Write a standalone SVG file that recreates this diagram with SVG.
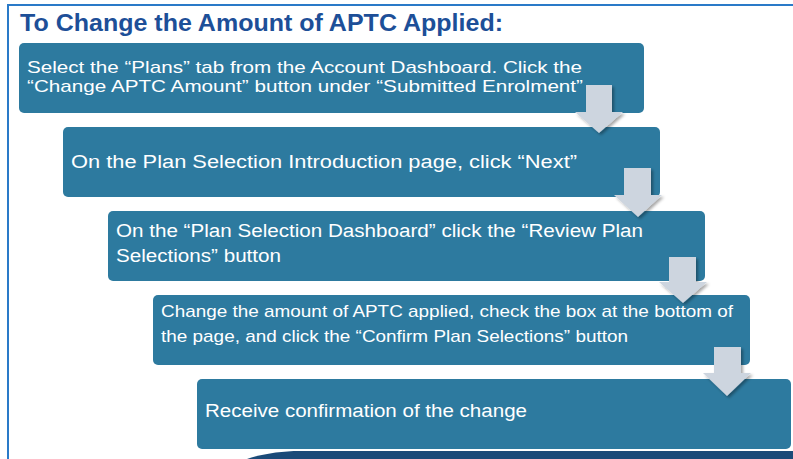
<svg xmlns="http://www.w3.org/2000/svg" width="793" height="459" viewBox="0 0 793 459">
  <style>
    .box { fill: #2d7a9f; }
    .txt { font-family: "Liberation Sans", Arial, sans-serif; fill: #ffffff; font-size: 18px; }
    .title { font-family: "Liberation Sans", Arial, sans-serif; fill: #1d4f98; font-size: 24px; font-weight: bold; }
    .arrow { fill: #cdd5df; filter: url(#sh); }
    .frame { stroke: #2a7ac8; stroke-width: 2; fill: none; }
  </style>
  <defs>
    <filter id="sh" x="-30%" y="-30%" width="160%" height="160%">
      <feDropShadow dx="2" dy="2" stdDeviation="1.5" flood-color="#000000" flood-opacity="0.35"/>
    </filter>
  </defs>
  <rect x="0" y="0" width="793" height="459" fill="#ffffff"/>
  <path class="frame" d="M8 459 V5 H793"/>
  <path d="M247 459 C 262 454, 280 451, 300 451 H793 V459 Z" fill="#1b4a78"/>
  <text class="title" x="20" y="31" textLength="483" lengthAdjust="spacingAndGlyphs">To Change the Amount of APTC Applied:</text>

  <g id="step1">
    <rect class="box" x="19" y="43" width="625" height="70" rx="5"/>
    <text class="txt" x="27" y="73" textLength="555" lengthAdjust="spacingAndGlyphs" style="font-size:17px">Select the “Plans” tab from the Account Dashboard. Click the</text>
    <text class="txt" x="27" y="92" textLength="556" lengthAdjust="spacingAndGlyphs" style="font-size:17px">“Change APTC Amount” button under “Submitted Enrolment”</text>
  </g>
  <g id="step2">
    <rect class="box" x="63" y="127" width="597" height="70" rx="5"/>
    <text class="txt" x="71" y="168" textLength="506" lengthAdjust="spacingAndGlyphs">On the Plan Selection Introduction page, click “Next”</text>
  </g>
  <g id="step3">
    <rect class="box" x="108" y="211" width="597" height="70" rx="5"/>
    <text class="txt" x="116" y="237" textLength="527" lengthAdjust="spacingAndGlyphs">On the “Plan Selection Dashboard” click the “Review Plan</text>
    <text class="txt" x="116" y="262" textLength="165" lengthAdjust="spacingAndGlyphs">Selections” button</text>
  </g>
  <g id="step4">
    <rect class="box" x="153" y="295" width="597" height="70" rx="5"/>
    <text class="txt" x="161" y="317" textLength="572" lengthAdjust="spacingAndGlyphs" style="font-size:17px">Change the amount of APTC applied, check the box at the bottom of</text>
    <text class="txt" x="161" y="342" textLength="467" lengthAdjust="spacingAndGlyphs" style="font-size:17px">the page, and click the “Confirm Plan Selections” button</text>
  </g>
  <g id="step5">
    <rect class="box" x="197" y="379" width="594" height="70" rx="5"/>
    <text class="txt" x="205" y="417" textLength="322" lengthAdjust="spacingAndGlyphs">Receive confirmation of the change</text>
  </g>

  <g id="connectors">
    <path class="arrow" d="M586 85 H612 V112 H623 L599 133 L575 112 H586 Z"/>
    <path class="arrow" d="M624 168 H651 V195 H662 L638 217 L614 195 H624 Z"/>
    <path class="arrow" d="M669 257 H696 V282 H707 L683 303 L659 282 H669 Z"/>
    <path class="arrow" d="M714 347 H741 V373 H751 L727 396 L703 373 H714 Z"/>
  </g>
</svg>
